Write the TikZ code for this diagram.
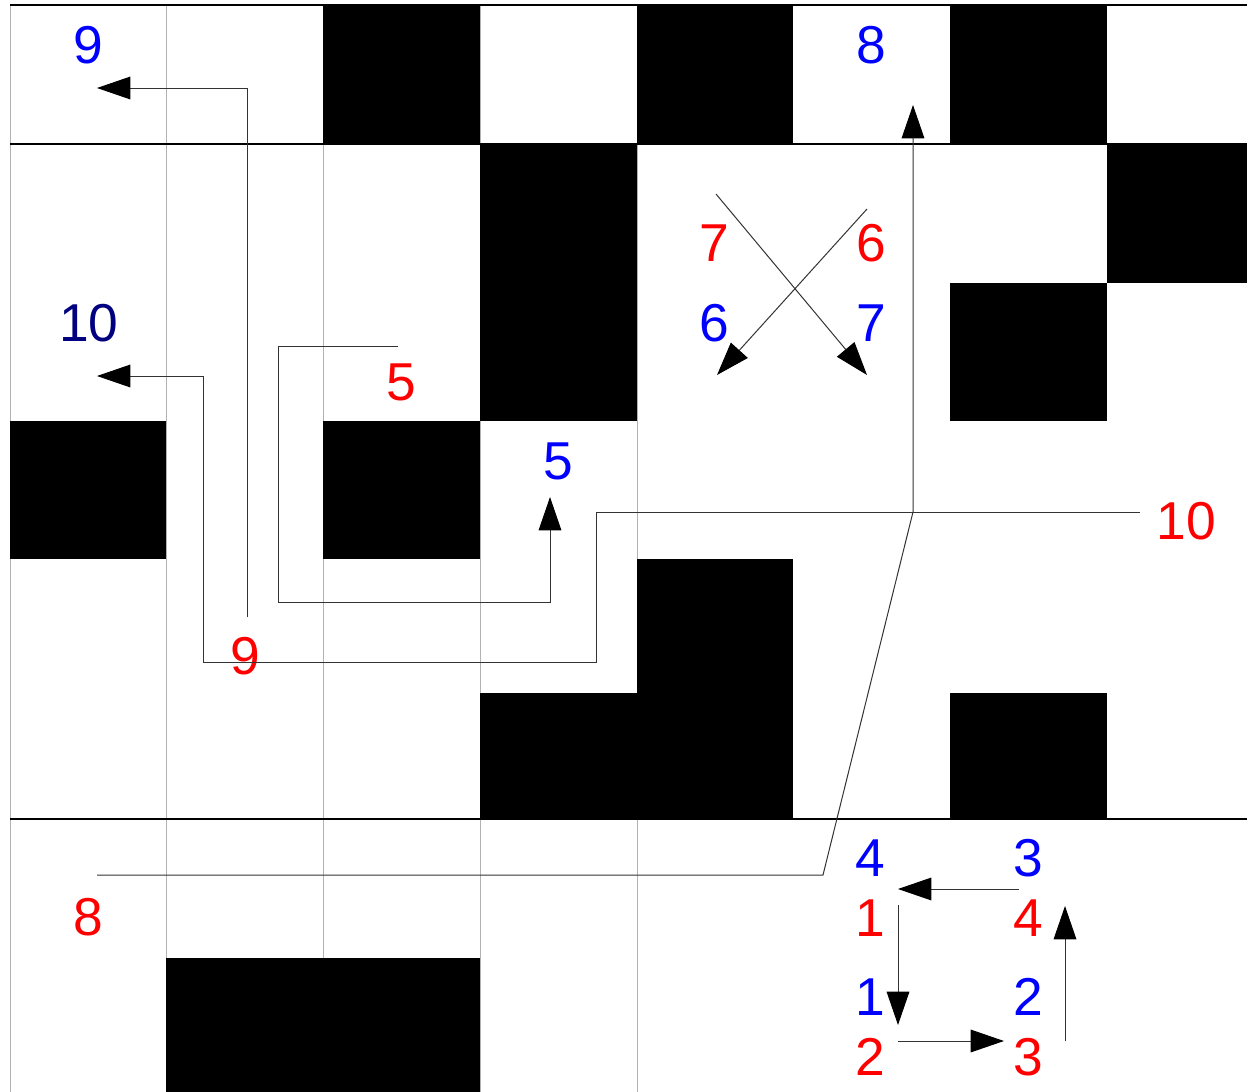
\documentclass[tikz,border=0pt]{standalone}
\usepackage{fontspec}
\setmainfont{Liberation Sans}
\usetikzlibrary{arrows.meta}
\definecolor{lblred}{RGB}{255,0,0}
\definecolor{lblblue}{RGB}{0,0,255}
\definecolor{lblnavy}{RGB}{0,0,128}
\begin{document}
\begin{tikzpicture}[x=0.75pt,y=-0.75pt,
  lbl/.style={inner sep=0pt, font=\fontsize{40}{40}\selectfont},
  rl/.style={lbl,text=lblred},
  bl/.style={lbl,text=lblblue},
  nl/.style={lbl,text=lblnavy},
  conn/.style={draw=black!80, line width=0.75pt},
  arr/.style={conn,-{Triangle[length=25pt,width=17pt,color=black,fill=black]}},
  cell/.style={fill=black},
  gridv/.style={draw=black!30, line width=0.75pt},
  gridh/.style={draw=black, line width=1.1pt}]
\useasboundingbox[fill=white] (0,0) rectangle (1247,1092);

% thin grey verticals
\foreach \gx in {10,166,323,480,637}
  \draw[gridv] (\gx,5) -- (\gx,1092);

% black cells
\fill[cell] (323,5) rectangle (480,144);
\fill[cell] (637,5) rectangle (793,144);
\fill[cell] (950,5) rectangle (1107,144);
\fill[cell] (480,144) rectangle (637,421);
\fill[cell] (1107,144) rectangle (1247,283);
\fill[cell] (950,283) rectangle (1107,421);
\fill[cell] (10,421) rectangle (166,559);
\fill[cell] (323,421) rectangle (480,559);
\fill[cell] (637,559) rectangle (793,819);
\fill[cell] (480,693) rectangle (637,819);
\fill[cell] (950,693) rectangle (1107,819);
\fill[cell] (166,958) rectangle (480,1092);

% black horizontals
\foreach \gy in {5,144,819}
  \draw[gridh] (10,\gy) -- (1247,\gy);

% labels
\node[bl] (b9) at (88,45) {9};
\node[bl] (b8) at (871,45) {8};
\node[nl] (n10) at (89,323) {10};
\node[rl] (r5) at (401,382) {5};
\node[bl] (b5) at (558,461) {5};
\node[rl] (r9) at (245,656) {9};
\node[rl] (r10) at (1186,521) {10};
\node[rl] (r8) at (88,917) {8};
\node[rl] (r7) at (714,243) {7};
\node[rl] (r6) at (871,243) {6};
\node[bl] (b6) at (714,323) {6};
\node[bl] (b7) at (871,323) {7};
\node[bl] (b4) at (870,858) {4};
\node[bl] (b3) at (1028,858) {3};
\node[rl] (r1) at (870,918) {1};
\node[rl] (r4) at (1028,918) {4};
\node[bl] (b1) at (870,997) {1};
\node[bl] (b2) at (1028,997) {2};
\node[rl] (r2) at (870,1057) {2};
\node[rl] (r3) at (1028,1057) {3};

% connector end points
\coordinate (p9s) at (247,617);
\coordinate (p9e) at (97,88);
\coordinate (p10s) at (1140,512);
\coordinate (p10a) at (596,512);
\coordinate (p10b) at (596,662);
\coordinate (p10c) at (203,662);
\coordinate (p10d) at (203,376);
\coordinate (p10e) at (97,376);
\coordinate (p5s) at (398,346);
\coordinate (p5a) at (278,346);
\coordinate (p5b) at (278,602);
\coordinate (p5c) at (550,602);
\coordinate (p5e) at (550,497);
\coordinate (p8s) at (97,875);
\coordinate (p8a) at (823,875);
\coordinate (p8b) at (913,512);
\coordinate (p8e) at (913,105);
\coordinate (x7s) at (716,194);
\coordinate (x7e) at (867,375);
\coordinate (x6s) at (867,209);
\coordinate (x6e) at (717,375);
\coordinate (s1s) at (1019,889);
\coordinate (s1e) at (898,889);
\coordinate (s2s) at (898,905);
\coordinate (s2e) at (898,1025);
\coordinate (s3s) at (898,1041);
\coordinate (s3e) at (1004,1041);
\coordinate (s4s) at (1065,1041);
\coordinate (s4e) at (1065,906);

% connectors
\draw[arr] (p9s) |- (p9e);
\draw[arr] (p10s) -- (p10a) -- (p10b) -- (p10c) -- (p10d) -- (p10e);
\draw[arr] (p5s) -- (p5a) -- (p5b) -- (p5c) -- (p5e);
\draw[arr] (p8s) -- (p8a) -- (p8b) -- (p8e);
\draw[arr] (x7s) -- (x7e);
\draw[arr] (x6s) -- (x6e);
\draw[arr] (s1s) -- (s1e);
\draw[arr] (s2s) -- (s2e);
\draw[arr] (s3s) -- (s3e);
\draw[arr] (s4s) -- (s4e);
\end{tikzpicture}
\end{document}
